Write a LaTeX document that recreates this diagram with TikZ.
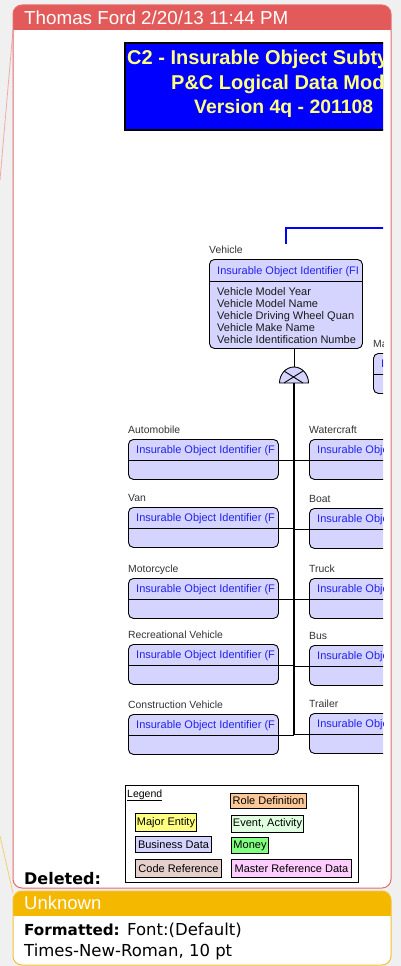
\documentclass[tikz,border=0pt]{standalone}
\usepackage{fontspec}
\setmainfont{Liberation Sans}
\newfontfamily\djv{DejaVu Sans}
\definecolor{bggray}{HTML}{F0F0F0}
\definecolor{redhdr}{HTML}{E25A5A}
\definecolor{redborder}{HTML}{E46C6C}
\definecolor{redline}{HTML}{F0AAAA}
\definecolor{yelhdr}{HTML}{F5B800}
\definecolor{yelborder}{HTML}{F5C030}
\definecolor{yelline}{HTML}{F2D070}
\definecolor{entfill}{HTML}{D4D4FF}
\definecolor{hdrblue}{HTML}{2222EE}
\definecolor{lblgray}{HTML}{333333}
\definecolor{attrgray}{HTML}{1A1A1A}
\definecolor{ttlyellow}{HTML}{FFFF80}
\definecolor{ttlblue}{HTML}{0000FF}
\definecolor{rolefill}{HTML}{FCC898}
\definecolor{majfill}{HTML}{FFFF80}
\definecolor{evfill}{HTML}{E0FFE0}
\definecolor{busfill}{HTML}{D4D4FF}
\definecolor{monfill}{HTML}{80FF80}
\definecolor{codefill}{HTML}{E6D0CC}
\definecolor{mastfill}{HTML}{FFCCFF}
\newcommand{\mkent}[5]{%
  \node[entbox, minimum width=150pt, minimum height=40pt] (#1) at (#2,#3) {};
  \coordinate (#1D) at (#2,#3+21);
  \draw[entline] (#1.west |- #1D) -- (#1.east |- #1D);
  \node[hdr] (#1H) at (#2+8,#3+14) {#5};
  \node[lbl] (#1L) at (#2,#3-6) {#4};
}
\begin{document}
\begin{tikzpicture}[x=1pt,y=-1pt,
  entbox/.style={draw=black, line width=0.9pt, rounded corners=5pt, fill=entfill, inner sep=0pt, anchor=north west},
  entline/.style={draw=black, line width=0.9pt},
  conn/.style={draw=black, line width=0.9pt},
  trunkline/.style={draw=black, line width=2pt},
  lbl/.style={font=\fontsize{10.4}{12}\selectfont, text=lblgray, inner sep=0pt, anchor=base west},
  hdr/.style={font=\fontsize{11}{13}\selectfont, text=hdrblue, inner sep=0pt, anchor=base west},
  attr/.style={font=\fontsize{11}{13}\selectfont, text=attrgray, inner sep=0pt, anchor=base west},
  legitem/.style={draw=black, line width=1pt, inner sep=0pt, anchor=north west, font=\fontsize{11}{13}\selectfont},
  ttl/.style={font=\bfseries\fontsize{20}{24}\selectfont, text=ttlyellow, inner sep=0pt, anchor=base west},
  cmthdr/.style={font=\fontsize{18.5}{22}\selectfont, text=white, inner sep=0pt, anchor=base west},
  cmtbody/.style={font=\djv\fontsize{16.5}{20}\selectfont, text=black, inner sep=0pt, anchor=base west}]
\useasboundingbox (0,0) rectangle (401,966);
\fill[bggray] (0,0) rectangle (401,966);
% pointer lines
\coordinate (rp1) at (13,30);
\coordinate (rp2) at (0,180);
\draw[redline, line width=0.8pt] (rp1) -- (rp2);
\coordinate (yp1) at (13,893);
\coordinate (yp2) at (0,836);
\draw[yelline, line width=0.8pt] (yp1) -- (yp2);
% red comment box
\begin{scope}
  \clip[rounded corners=9pt] (13,5) rectangle (391,888);
  \fill[white] (13,5) rectangle (391,888);
  \fill[redhdr] (13,5) rectangle (391,30);
\end{scope}
\draw[redborder, line width=1pt, rounded corners=9pt] (13,5) rectangle (391,888);
\node[cmthdr, font=\fontsize{18.8}{22}\selectfont] (th) at (24,25) {Thomas Ford 2/20/13 11:44 PM};
% yellow comment box
\begin{scope}
  \clip[rounded corners=9pt] (13,891) rectangle (391,965);
  \fill[white] (13,891) rectangle (391,965);
  \fill[yelhdr] (13,891) rectangle (391,916);
\end{scope}
\draw[yelborder, line width=1pt, rounded corners=9pt] (13,891) rectangle (391,965);
\node[cmthdr] (uk) at (24,909) {Unknown};
\node[cmtbody, font=\djv\bfseries\fontsize{15.2}{18}\selectfont] (fmtb) at (24,935) {Formatted:};
\node[cmtbody] (fmtr) at (127,935) {Font:(Default)};
\node[cmtbody] (tnr) at (24,956) {Times-New-Roman, 10 pt};
% diagram (clipped)
\begin{scope}
  \clip (14,31) rectangle (383,887);
  \draw[fill=ttlblue, draw=black, line width=1.2pt] (125,43) rectangle (470,130);
  \node[ttl] (t1) at (127,65) {C2 - Insurable Object Subty};
  \node[ttl] (t2) at (171,89) {P\&C Logical Data Mod};
  \node[ttl, font=\bfseries\fontsize{19.4}{24}\selectfont] (t3) at (194,113) {Version 4q - 201108};
  \coordinate (blA) at (286,244);
  \coordinate (blB) at (286,228);
  \coordinate (blC) at (400,228);
  \draw[ttlblue, line width=1.2pt] (blA) -- (blB) -- (blC);
  % vehicle
  \node[entbox, minimum width=153pt, minimum height=89pt] (veh) at (209,259) {};
  \coordinate (vehD) at (209,281);
  \draw[entline] (veh.west |- vehD) -- (veh.east |- vehD);
  \node[lbl] (vehL) at (209,253) {Vehicle};
  \node[hdr] (vehH) at (217,274) {Insurable Object Identifier (FI};
  \node[attr] (va1) at (217,295) {Vehicle Model Year};
  \node[attr] (va2) at (217,307) {Vehicle Model Name};
  \node[attr] (va3) at (217,319) {Vehicle Driving Wheel Quan};
  \node[attr] (va4) at (217,331) {Vehicle Make Name};
  \node[attr] (va5) at (217,343) {Vehicle Identification Numbe};
  % Ma... entity
  \mkent{ma}{373}{353}{Ma}{Insurable Object Identifier (F}
  % subtype symbol
  \coordinate (symTop) at (294,367);
  \coordinate (trunkTop) at (294,383);
  \draw[entline, line width=0.7pt] (veh.south -| symTop) -- (symTop);
  \draw[fill=entfill, line width=0.9pt] (279.5,383) arc[start angle=180, end angle=0, x radius=14.5pt, y radius=16pt] -- cycle;
  \draw[line width=0.9pt] (284,371) -- (303,383);
  \draw[line width=0.9pt] (303,371) -- (284,383);
  % subtypes
  \mkent{auto}{128}{439}{Automobile}{Insurable Object Identifier (F}
  \mkent{van}{128}{507}{Van}{Insurable Object Identifier (F}
  \mkent{moto}{128}{578}{Motorcycle}{Insurable Object Identifier (F}
  \mkent{rv}{128}{644}{Recreational Vehicle}{Insurable Object Identifier (F}
  \mkent{cv}{128}{714}{Construction Vehicle}{Insurable Object Identifier (F}
  \mkent{wc}{309}{439}{Watercraft}{Insurable Object Identifier (F}
  \mkent{boat}{309}{508}{Boat}{Insurable Object Identifier (F}
  \mkent{truck}{309}{578}{Truck}{Insurable Object Identifier (F}
  \mkent{bus}{309}{645}{Bus}{Insurable Object Identifier (F}
  \mkent{trl}{309}{713}{Trailer}{Insurable Object Identifier (F}
  \draw[trunkline] (trunkTop) -- (cvD -| trunkTop);
  \foreach \e in {auto,van,moto,rv,cv}{
    \draw[conn] (\e D -| \e.east) -- (\e D -| trunkTop);
  }
  \foreach \e in {wc,boat,truck,bus,trl}{
    \draw[conn] (\e D -| trunkTop) -- (\e D -| \e.west);
  }
\end{scope}
% legend
\node[draw=black, line width=1pt, inner sep=0pt, anchor=north west, minimum width=233pt, minimum height=97pt] (leg) at (125,785) {};
\node[font=\fontsize{10.5}{12}\selectfont, inner sep=0pt, anchor=base west] (legT) at (127,797) {\underline{Legend}};
\node[legitem, fill=rolefill, minimum width=76pt, minimum height=15pt] (lrole) at (230,793) {Role Definition};
\node[legitem, fill=majfill, minimum width=61pt, minimum height=18pt] (lmaj) at (135,813) {Major Entity};
\node[legitem, fill=evfill, minimum width=72pt, minimum height=17pt] (lev) at (231,815) {Event, Activity};
\node[legitem, fill=busfill, minimum width=76pt, minimum height=16pt] (lbus) at (135,836) {Business Data};
\node[legitem, fill=monfill, minimum width=37pt, minimum height=16pt] (lmon) at (231,837) {Money};
\node[legitem, fill=codefill, minimum width=86pt, minimum height=18pt] (lcode) at (135,859) {Code Reference};
\node[legitem, fill=mastfill, minimum width=120pt, minimum height=18pt] (lmast) at (231,859) {Master Reference Data};
\node[cmtbody, font=\djv\bfseries\fontsize{16}{19}\selectfont] (del) at (24,884) {Deleted:};
\end{tikzpicture}
\end{document}
